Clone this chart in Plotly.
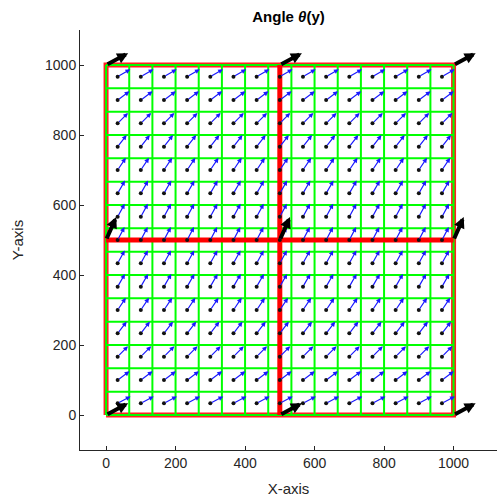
import numpy as np
import plotly.graph_objects as go

# 15 x 15 cells over the square [0, 1000] x [0, 1000]
n_cells = 15
side = 1000.0
grid_edges = [side * k / n_cells for k in range(n_cells + 1)]
cell_centers = [side * (k + 0.5) / n_cells for k in range(n_cells)]

# Direction of the small arrows per row (degrees), bottom row first
row_angle_deg = [28, 36, 45, 52, 56, 60, 61, 62, 61, 60, 56, 52, 45, 36, 30]
small_len = 42.0

# Large arrows at the quadrant corners
corner_x = [0, 500, 1000]
corner_y = [0, 500, 1000]
corner_angle_deg = [28, 66, 28]
big_len = 72.0

# Quadrant dividers
divider_pos = [500]

tick_vals = [0, 200, 400, 600, 800, 1000]
font_family = "Liberation Sans, Arial, sans-serif"
text_color = "#262626"

fig = go.Figure()

# red outer frame
fig.add_trace(go.Scatter(
    x=[0, side, side, 0, 0], y=[0, 0, side, side, 0], mode="lines",
    line=dict(color="#ff2020", width=5), hoverinfo="skip", showlegend=False))

# green cell grid
gx, gy = [], []
for e in grid_edges:
    gx += [e, e, None]
    gy += [0, side, None]
    gx += [0, side, None]
    gy += [e, e, None]
fig.add_trace(go.Scatter(x=gx, y=gy, mode="lines",
                         line=dict(color="#00ff00", width=2),
                         hoverinfo="skip", showlegend=False))

# red quadrant dividers
dx, dy = [], []
for p in divider_pos:
    dx += [p, p, None, 0, side, None]
    dy += [0, side, None, p, p, None]
fig.add_trace(go.Scatter(x=dx, y=dy, mode="lines",
                         line=dict(color="#ff0000", width=5),
                         hoverinfo="skip", showlegend=False))

# black dots at the cell centres
px, py = np.meshgrid(cell_centers, cell_centers)
fig.add_trace(go.Scatter(x=px.ravel(), y=py.ravel(), mode="markers",
                         marker=dict(color="#111111", size=4),
                         hoverinfo="skip", showlegend=False))

annotations = []
for j, yc in enumerate(cell_centers):
    t = np.deg2rad(row_angle_deg[j])
    for xc in cell_centers:
        annotations.append(dict(
            x=xc + small_len * np.cos(t), y=yc + small_len * np.sin(t),
            ax=xc, ay=yc, xref="x", yref="y", axref="x", ayref="y",
            text="", showarrow=True, arrowhead=2, arrowsize=0.8,
            arrowwidth=1.2, arrowcolor="#1a1aff", standoff=0, startstandoff=0))

for j, yc in enumerate(corner_y):
    t = np.deg2rad(corner_angle_deg[j])
    for xc in corner_x:
        annotations.append(dict(
            x=xc + big_len * np.cos(t), y=yc + big_len * np.sin(t),
            ax=xc, ay=yc, xref="x", yref="y", axref="x", ayref="y",
            text="", showarrow=True, arrowhead=2, arrowsize=0.55,
            arrowwidth=4, arrowcolor="#000000", standoff=0, startstandoff=0))

axis_common = dict(
    showgrid=False, zeroline=False, showline=True, linecolor=text_color,
    linewidth=1, ticks="inside", ticklen=4, tickcolor=text_color,
    tickvals=tick_vals, tickfont=dict(size=14, color=text_color, family=font_family),
    mirror=False)

fig.update_layout(
    width=504, height=501,
    margin=dict(l=80, r=7, t=30, b=51),
    plot_bgcolor="white", paper_bgcolor="white",
    title=dict(text="<b>Angle <i>θ</i>(y)</b>", x=0.5725, xanchor="center",
               y=0.966, yanchor="middle",
               font=dict(size=15, color="#000000", family=font_family)),
    xaxis=dict(range=[-75, 1125], title=dict(text="X-axis", standoff=13,
               font=dict(size=15, color=text_color, family=font_family)),
               **axis_common),
    yaxis=dict(range=[-100, 1100], title=dict(text="Y-axis", standoff=17,
               font=dict(size=15, color=text_color, family=font_family)),
               **axis_common),
    annotations=annotations,
)

fig.write_html("out.html")
